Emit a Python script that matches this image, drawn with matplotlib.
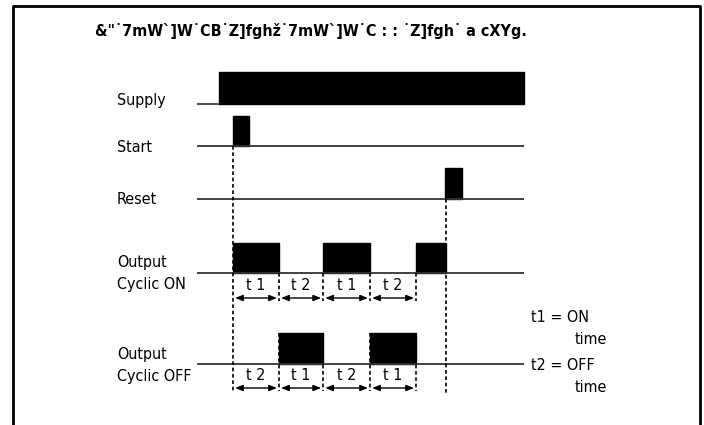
import matplotlib
matplotlib.use("Agg")
import matplotlib.pyplot as plt

# timing data (time units, t = 0 at the start pulse)
title = '&"˙7mW`]W˙CB˙Z]fghž˙7mW`]W˙C : : ˙Z]fgh˙ a cXYg.'
signal_names = ["Supply", "Start", "Reset", "Output\nCyclic ON", "Output\nCyclic OFF"]
t_begin, t_end = -0.78, 6.33
supply_on = -0.30
start_pulse = (0.0, 0.35)
reset_pulse = (4.60, 4.98)
cycle_edges = [0.0, 1.0, 1.96, 2.98, 3.98]
reset_time = 4.63
on_labels = ["t 1", "t 2", "t 1", "t 2"]
off_labels = ["t 2", "t 1", "t 2", "t 1"]
legend_lines = [("t1 = ON", "time"), ("t2 = OFF", "time")]

W, H = 704, 425
TXT = dict(family="DejaVu Sans", fontstretch="condensed", fontsize=11.5)


def fx(x):
    return x / W


def fy(y):
    return 1 - y / H


fig = plt.figure(figsize=(W / 100, H / 100), dpi=100)
ax = fig.add_axes([0, 0, 1, 1])
ax.set_xlim(-233 / 46, (W - 233) / 46)
ax.set_ylim(H, 0)
ax.axis("off")

# frame (open at the bottom)
fig.add_artist(plt.Line2D([fx(13), fx(13), fx(700), fx(700)],
                          [0, fy(6), fy(6), 0], color="black", lw=2))

fig.text(fx(311), fy(31), title, ha="center", va="center",
         family="DejaVu Sans", fontstretch="condensed", fontsize=11.5,
         fontweight="bold")

# rows: (baseline px, top px)
rows = {"supply": (104, 72), "start": (146, 116), "reset": (199, 168),
        "on": (273, 243), "off": (364, 333)}

# supply
b, t = rows["supply"]
ax.hlines(b, t_begin, supply_on, color="#555555", lw=1.5)
ax.broken_barh([(supply_on, t_end - supply_on)], (t, b - t), color="black")

# start / reset
for key, pulse in [("start", start_pulse), ("reset", reset_pulse)]:
    b, t = rows[key]
    ax.hlines(b, t_begin, t_end, color="#333333", lw=1.3)
    ax.broken_barh([(pulse[0], pulse[1] - pulse[0])], (t, b - t), color="black")

# outputs
edges = cycle_edges + [reset_time]
on_spans = [(edges[i], edges[i + 1] - edges[i]) for i in range(0, len(edges) - 1, 2)]
off_spans = [(edges[i], edges[i + 1] - edges[i]) for i in range(1, len(edges) - 1, 2)]
for key, spans in [("on", on_spans), ("off", off_spans)]:
    b, t = rows[key]
    ax.hlines(b, t_begin, t_end, color="#333333", lw=1.3)
    ax.broken_barh(spans, (t, b - t), color="black")

# dashed guides
dash = dict(color="black", lw=1.2, linestyles=(0, (2.2, 1.6)))
ax.vlines(cycle_edges[0], rows["start"][0], 393, **dash)
ax.vlines(reset_time, rows["reset"][0], 393, **dash)
ax.vlines(cycle_edges[1:], rows["on"][0], 301, **dash)
ax.vlines(cycle_edges[1:], rows["off"][1], 391, **dash)

# arrows and t labels
arrow = dict(arrowstyle="<|-|>,head_length=0.45,head_width=0.18", color="black",
             lw=1, shrinkA=1.5, shrinkB=1.5)
for labels, ay, ty in [(on_labels, 298, 285), (off_labels, 388, 376)]:
    for i, lab in enumerate(labels):
        x0, x1 = cycle_edges[i], cycle_edges[i + 1]
        ax.annotate("", xy=(x1, ay), xytext=(x0, ay), arrowprops=arrow)
        ax.text((x0 + x1) / 2, ty, lab, ha="center", va="center", **TXT)

# signal names
name_y = [100, 148, 200, (263, 285), (355, 377)]
for name, y in zip(signal_names, name_y):
    ys = y if isinstance(y, tuple) else (y,)
    for line, yy in zip(name.split("\n"), ys):
        fig.text(fx(117), fy(yy), line, ha="left", va="center", **TXT)

# legend text
for (first, second), y in zip(legend_lines, [317, 365]):
    fig.text(fx(531), fy(y), first, ha="left", va="center", **TXT)
    fig.text(fx(575), fy(y + 23), second, ha="left", va="center", **TXT)

fig.savefig("out.png", dpi=100)
